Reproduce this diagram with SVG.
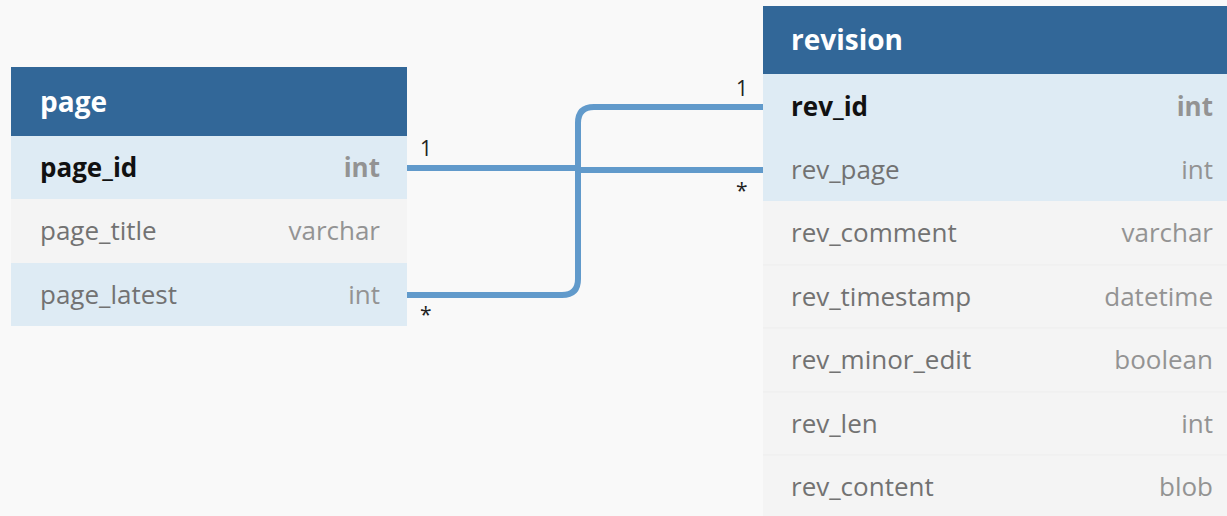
<svg xmlns="http://www.w3.org/2000/svg" width="1227" height="516" viewBox="0 0 1227 516">
<style>
.bg{fill:#f9f9f9}
.hdr{fill:#326798}
.pk{fill:#deebf4}
.rw{fill:#f4f4f4}
.sep{stroke:#ededed;stroke-width:1}
.ht{font-family:"Open Sans",sans-serif;font-size:28px;font-weight:700;fill:#ffffff}
.fn{font-family:"Open Sans",sans-serif;font-size:26px;fill:#727272}
.fnb{font-family:"Open Sans",sans-serif;font-size:26px;font-weight:700;fill:#111111}
.ty{font-family:"Open Sans",sans-serif;font-size:26px;fill:#939393;text-anchor:end}
.tyb{font-family:"Open Sans",sans-serif;font-size:26px;font-weight:700;fill:#939393;text-anchor:end}
.conn{fill:none;stroke:#619acb;stroke-width:6;stroke-linejoin:round}
.lbl{font-family:"Open Sans",sans-serif;font-size:21px;fill:#222222}
</style>
<rect class="bg" x="0" y="0" width="1227" height="516"/>
<g id="connectors">
<path class="conn" d="M407,168 L578,168 L578,170 L763,170"/>
<path class="conn" d="M407,295 L562,295 Q578,295 578,279 L578,123 Q578,107 594,107 L763,107"/>
<text class="lbl" x="420" y="156">1</text>
<text class="lbl" x="420" y="322">*</text>
<text class="lbl" x="736" y="96">1</text>
<text class="lbl" x="736" y="198">*</text>
</g>
<g id="page">
<rect class="hdr" x="11" y="67" width="396" height="69"/>
<text class="ht" x="40" y="112">page</text>
<rect class="pk" x="11" y="136" width="396" height="63"/>
<text class="fnb" x="40" y="177">page_id</text>
<text class="tyb" x="380" y="177">int</text>
<rect class="rw" x="11" y="199" width="396" height="64"/>
<text class="fn" x="40" y="240">page_title</text>
<text class="ty" x="380" y="240">varchar</text>
<rect class="pk" x="11" y="263" width="396" height="63"/>
<text class="fn" x="40" y="304">page_latest</text>
<text class="ty" x="380" y="304">int</text>
</g>
<g id="revision">
<rect class="hdr" x="763" y="6" width="464" height="68"/>
<text class="ht" x="791" y="50">revision</text>
<rect class="pk" x="763" y="74" width="464" height="64"/>
<text class="fnb" x="791" y="116">rev_id</text>
<text class="tyb" x="1213" y="116">int</text>
<rect class="pk" x="763" y="138" width="464" height="63"/>
<text class="fn" x="791" y="179">rev_page</text>
<text class="ty" x="1213" y="179">int</text>
<rect class="rw" x="763" y="201" width="464" height="64"/>
<text class="fn" x="791" y="242">rev_comment</text>
<text class="ty" x="1213" y="242">varchar</text>
<rect class="rw" x="763" y="265" width="464" height="63"/>
<text class="fn" x="791" y="306">rev_timestamp</text>
<text class="ty" x="1213" y="306">datetime</text>
<rect class="rw" x="763" y="328" width="464" height="64"/>
<text class="fn" x="791" y="369">rev_minor_edit</text>
<text class="ty" x="1213" y="369">boolean</text>
<rect class="rw" x="763" y="392" width="464" height="63"/>
<text class="fn" x="791" y="433">rev_len</text>
<text class="ty" x="1213" y="433">int</text>
<rect class="rw" x="763" y="455" width="464" height="61"/>
<text class="fn" x="791" y="496">rev_content</text>
<text class="ty" x="1213" y="496">blob</text>
<line class="sep" x1="763" y1="265" x2="1227" y2="265"/>
<line class="sep" x1="763" y1="328" x2="1227" y2="328"/>
<line class="sep" x1="763" y1="392" x2="1227" y2="392"/>
<line class="sep" x1="763" y1="455" x2="1227" y2="455"/>
</g>
</svg>
